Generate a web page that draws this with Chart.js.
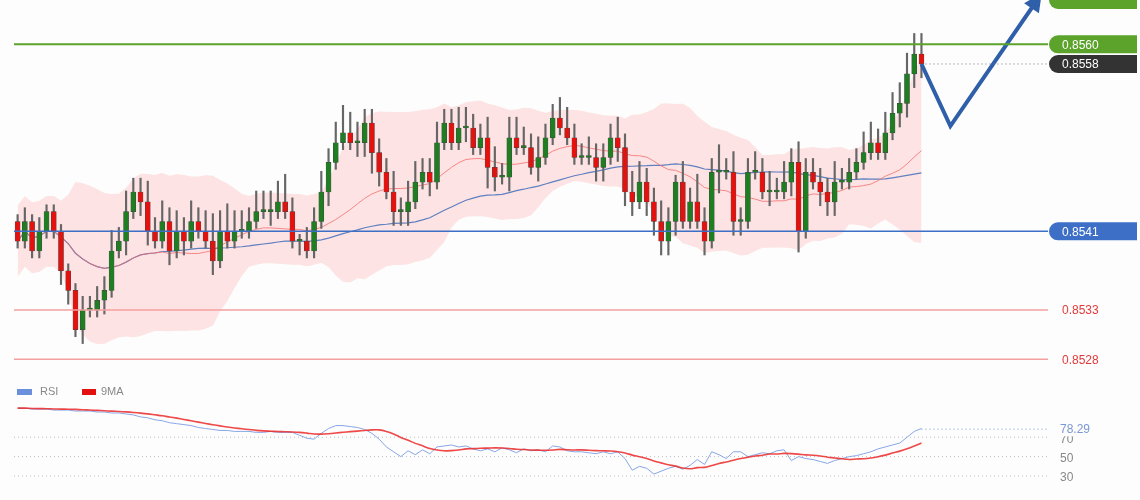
<!DOCTYPE html>
<html><head><meta charset="utf-8">
<script src="https://cdn.jsdelivr.net/npm/chart.js@4"></script>
<style>
html,body{margin:0;padding:0;background:#fcfdfc;}
#w{position:relative;width:1140px;height:500px;}
canvas{position:absolute;left:0;}
</style></head><body><div id="w">
<canvas id="c1" width="1140" height="380" style="top:0;width:1140px;height:380px"></canvas>
<canvas id="c2" width="1140" height="120" style="top:380px;width:1140px;height:120px"></canvas>
</div>
<script>
const closes=[0.8540,0.8542,0.8539,0.8541,0.8543,0.8541,0.8537,0.8535,0.8531,0.8533,
0.8533,0.8534,0.8535,0.8539,0.8540,0.8543,0.8545,0.8544,0.8541,0.8540,
0.8542,0.8539,0.8541,0.8540,0.8542,0.8541,0.8540,0.8538,0.8541,0.8540,
0.8541,0.8541,0.8542,0.8543,0.8543,0.8543,0.8544,0.8543,0.8540,0.8540,
0.8539,0.8542,0.8545,0.8548,0.8550,0.8551,0.8550,0.8550,0.8552,0.8549,
0.8547,0.8545,0.8543,0.8543,0.8544,0.8546,0.8547,0.8546,0.8550,0.8552,
0.8550,0.85515,0.85515,0.85495,0.85505,0.85475,0.85465,0.85465,0.85505,0.85495,
0.85495,0.85475,0.85485,0.85505,0.85525,0.85515,0.85505,0.85485,0.85485,0.85485,
0.85475,0.85485,0.85505,0.85495,0.8545,0.8544,0.8546,0.8544,0.8542,0.8540,
0.8542,0.8546,0.8542,0.8544,0.8542,0.8540,0.8547,0.8547,0.8547,0.8542,
0.8542,0.8547,0.8547,0.8545,0.8545,0.8545,0.8546,0.8548,0.8541,0.8547,
0.8546,0.8545,0.8544,0.8546,0.8546,0.8547,0.8548,0.8549,0.8550,0.8549,
0.8551,0.8553,0.8554,0.8557,0.8559,0.8558];
const firstOpen=0.8542;
const wickUp=[1,2,1,2,1,1,1,1,1,2, 2,2,2,3,2,3,2,2,3,2, 3,2,3,2,3,2,3,4,3,4, 3,3,2,3,3,3,3,4,2,1,
2,2,3,2,3,4,3,3,2,2, 2,2,3,2,3,3,2,2,3,2, 2,3,3,2,2,3,3,2,3,3, 3,2,3,2,2,3,3,2,2,3,
2,2,2,3,2,3,3,2,2,3, 2,1,3,2,4,2,2,4,2,3, 2,2,3,2,3,2,3,2,3,2, 2,2,2,3,2,2,2,3,3,2, 3,3,3,3,3,3];
const wickDn=[1,1,1,1,1,1,2,2,1,2, 1,1,2,1,1,2,1,2,2,1, 1,2,1,2,1,1,1,2,1,1, 1,1,1,1,1,2,1,1,1,2,
1,1,1,2,1,1,1,2,2,3, 2,1,2,2,2,1,1,2,1,1, 1,1,2,1,1,3,2,1,2,1, 1,1,2,1,1,1,1,1,1,1,
2,2,1,2,2,2,1,2,2,2, 2,2,1,1,1,2,1,3,1,2, 2,1,1,1,2,1,1,2,3,1, 1,2,2,2,1,1,1,1,1,1, 1,1,2,2,2,2];
const rsi=[100,100,99,99,99,98,98,98,97,97, 97,96,96,95,95,94,93, 91,90,88,87,85, 84,83,82,80,79,78,77,
77,76,76,76,75,75,76,75,75,75, 72,69,68, 74,79,82,82,81,80,78, 74,68,60,55,50, 56,52,57,53,60,61,62,
60,61,58,56,58,55,59,57, 54,58,56,57,55,61,60, 56,55,55,54,53,55,53,55, 48,36,40,38,32, 35,38,40,37,41,
47,42,55,52,48,55,55, 50,52,54,53,56,57,46, 50,48,47,45,43, 46,48,50,51,53,55, 58,60,62,64,70,76,79];
const levels={resist2:0.8560,last:0.8558,support1:0.8541,support2:0.8533,support3:0.8528};
const rsiLast="78.29";
const arrowPts=[[125,0.8558],[129,0.85517],[141,0.85645]];
const NSLOT=143;
const WICK_UNIT=0.00007;

const labels=Array.from({length:NSLOT},(_,i)=>i);
const opens=closes.map((c,i)=>i?closes[i-1]:firstOpen);
const sma=(arr,n)=>arr.map((_,i)=>{const s=arr.slice(Math.max(0,i-n+1),i+1);return s.reduce((a,b)=>a+b,0)/s.length;});
const sd=(arr,n,m)=>arr.map((_,i)=>{const s=arr.slice(Math.max(0,i-n+1),i+1);return Math.sqrt(s.reduce((a,b)=>a+(b-m[i])**2,0)/s.length);});
const ma20=sma(closes,20), ma50=sma(closes,50), sd20=sd(closes,20,ma20);
const bbU=ma20.map((m,i)=>m+2*Math.max(sd20[i],0.00018)), bbL=ma20.map((m,i)=>m-2*Math.max(sd20[i],0.00018));
const arrowData=labels.map(()=>null); arrowPts.forEach(([i,v])=>arrowData[i]=v);
const bodies=closes.map((c,i)=>[opens[i],c===opens[i]?c+0.00002:c]);
const wicks=closes.map((c,i)=>[Math.min(c,opens[i])-wickDn[i]*WICK_UNIT,Math.max(c,opens[i])+wickUp[i]*WICK_UNIT]);
const cols=closes.map((c,i)=>c>=opens[i]?'#1f7d22':'#e3120f');

const L=14,R=1048;
const deco={id:'deco',afterDatasetsDraw(ch){
 const c=ch.ctx,y=ch.scales.y;c.save();
 const hl=(v,col,w)=>{c.strokeStyle=col;c.lineWidth=w;c.beginPath();c.moveTo(L,y.getPixelForValue(v));c.lineTo(R,y.getPixelForValue(v));c.stroke();};
 hl(levels.resist2,'#5ba32b',2);hl(levels.support1,'#3d6fc6',1.5);hl(levels.support2,'#f4a0a0',1.5);hl(levels.support3,'#f4a0a0',1.5);
 const x=ch.scales.x; const yl=y.getPixelForValue(levels.last);
 c.setLineDash([1,3]);c.strokeStyle='#777';c.lineWidth=1;c.beginPath();c.moveTo(x.getPixelForValue(125)+4,yl);c.lineTo(R,yl);c.stroke();c.setLineDash([]);
 const p1=[x.getPixelForValue(129),y.getPixelForValue(arrowPts[1][1])],p2=[x.getPixelForValue(141),y.getPixelForValue(arrowPts[2][1])];
 const a=Math.atan2(p2[1]-p1[1],p2[0]-p1[0]);c.fillStyle='#2f5fa9';c.beginPath();
 c.moveTo(p2[0]+8*Math.cos(a),p2[1]+8*Math.sin(a));
 c.lineTo(p2[0]-10*Math.cos(a)+9*Math.sin(a),p2[1]-10*Math.sin(a)-9*Math.cos(a));
 c.lineTo(p2[0]-10*Math.cos(a)-9*Math.sin(a),p2[1]-10*Math.sin(a)+9*Math.cos(a));c.fill();
 c.font='12px "Liberation Sans", Arial';c.textBaseline='middle';
 const box=(v,bg,txt,fg)=>{const yy=y.getPixelForValue(v);if(bg){c.fillStyle=bg;c.beginPath();c.roundRect(1049,yy-9,88,18,[9,0,0,9]);c.fill();}c.fillStyle=fg;c.fillText(txt,1062,yy+1);};
 box(0.85645,'#5ba32b','','#fff');
 box(levels.resist2,'#5ba32b','0.8560','#fff');box(levels.last,'#333','0.8558','#fff');
 box(levels.support1,'#3d6fc6','0.8541','#fff');box(levels.support2,null,'0.8533','#e23a3a');box(levels.support3,null,'0.8528','#e23a3a');
 c.restore();}};
new Chart(document.getElementById('c1'),{data:{labels,datasets:[
 {type:'line',data:bbU,borderWidth:0,pointRadius:0,fill:'+1',backgroundColor:'rgba(255,160,160,0.28)',order:10},
 {type:'line',data:bbL,borderWidth:0,pointRadius:0,fill:false,order:10},
 {type:'line',data:ma20,borderColor:'rgba(245,110,110,0.8)',borderWidth:1,pointRadius:0,order:9},
 {type:'line',data:ma50,borderColor:'#5f7fc0',borderWidth:1.2,pointRadius:0,order:9},
 {type:'bar',data:wicks,backgroundColor:'#666',barThickness:1.5,grouped:false,order:5},
 {type:'bar',data:bodies,backgroundColor:cols,borderColor:'#444',borderWidth:0.5,borderSkipped:false,barThickness:5,grouped:false,order:4},
 {type:'line',data:arrowData,spanGaps:true,borderColor:'#2f5fa9',borderWidth:4,pointRadius:0,order:1}
]},options:{responsive:false,animation:false,events:[],layout:{padding:{left:L,right:1140-R,top:0,bottom:0}},
 plugins:{legend:{display:false},tooltip:{enabled:false}},
 scales:{x:{display:false,offset:true},y:{display:false,min:0.85259,max:0.85645}}},plugins:[deco]});

const rsiMA=sma(rsi,9);
const deco2={id:'deco2',beforeDatasetsDraw(ch){const c=ch.ctx,y=ch.scales.y;c.save();
 c.setLineDash([1,3]);c.strokeStyle='#bbb';c.lineWidth=1;
 [30,50,70].forEach(v=>{c.beginPath();c.moveTo(L,y.getPixelForValue(v));c.lineTo(R,y.getPixelForValue(v));c.stroke();});
 c.restore();},
 afterDatasetsDraw(ch){const c=ch.ctx,y=ch.scales.y,x=ch.scales.x;c.save();
 c.font='12px "Liberation Sans", Arial';c.textBaseline='middle';c.fillStyle='#888';
 [30,50,70].forEach(v=>c.fillText(String(v),1060,y.getPixelForValue(v)+2));
 const yy=y.getPixelForValue(parseFloat(rsiLast));
 c.fillStyle='#fcfdfc';c.fillRect(1052,yy-8,50,15);
 c.fillStyle='#7c98d4';c.fillText(rsiLast,1060,yy);
 c.setLineDash([1,3]);c.strokeStyle='#7c98d4';c.beginPath();c.moveTo(x.getPixelForValue(125),yy);c.lineTo(R,yy);c.stroke();c.setLineDash([]);
 c.font='11px "Liberation Sans", Arial';
 c.fillStyle='#6a8fdc';c.fillRect(17,9,15,6);c.fillStyle='#888';c.fillText('RSI',40,12);
 c.fillStyle='#e41010';c.fillRect(82,9,14,6);c.fillStyle='#888';c.fillText('9MA',101,12);
 c.restore();}};
new Chart(document.getElementById('c2'),{type:'line',data:{labels,datasets:[
 {data:rsiMA,borderColor:'rgba(235,40,40,0.85)',borderWidth:1.6,pointRadius:0,tension:0.3},
 {data:rsi,borderColor:'#88a6e6',borderWidth:1,pointRadius:0}
]},options:{responsive:false,animation:false,events:[],layout:{padding:{left:L,right:1140-R,top:0,bottom:10}},
 plugins:{legend:{display:false},tooltip:{enabled:false}},
 scales:{x:{display:false,offset:true},y:{display:false,min:15.6,max:129}}},plugins:[deco2]});
</script></body></html>
